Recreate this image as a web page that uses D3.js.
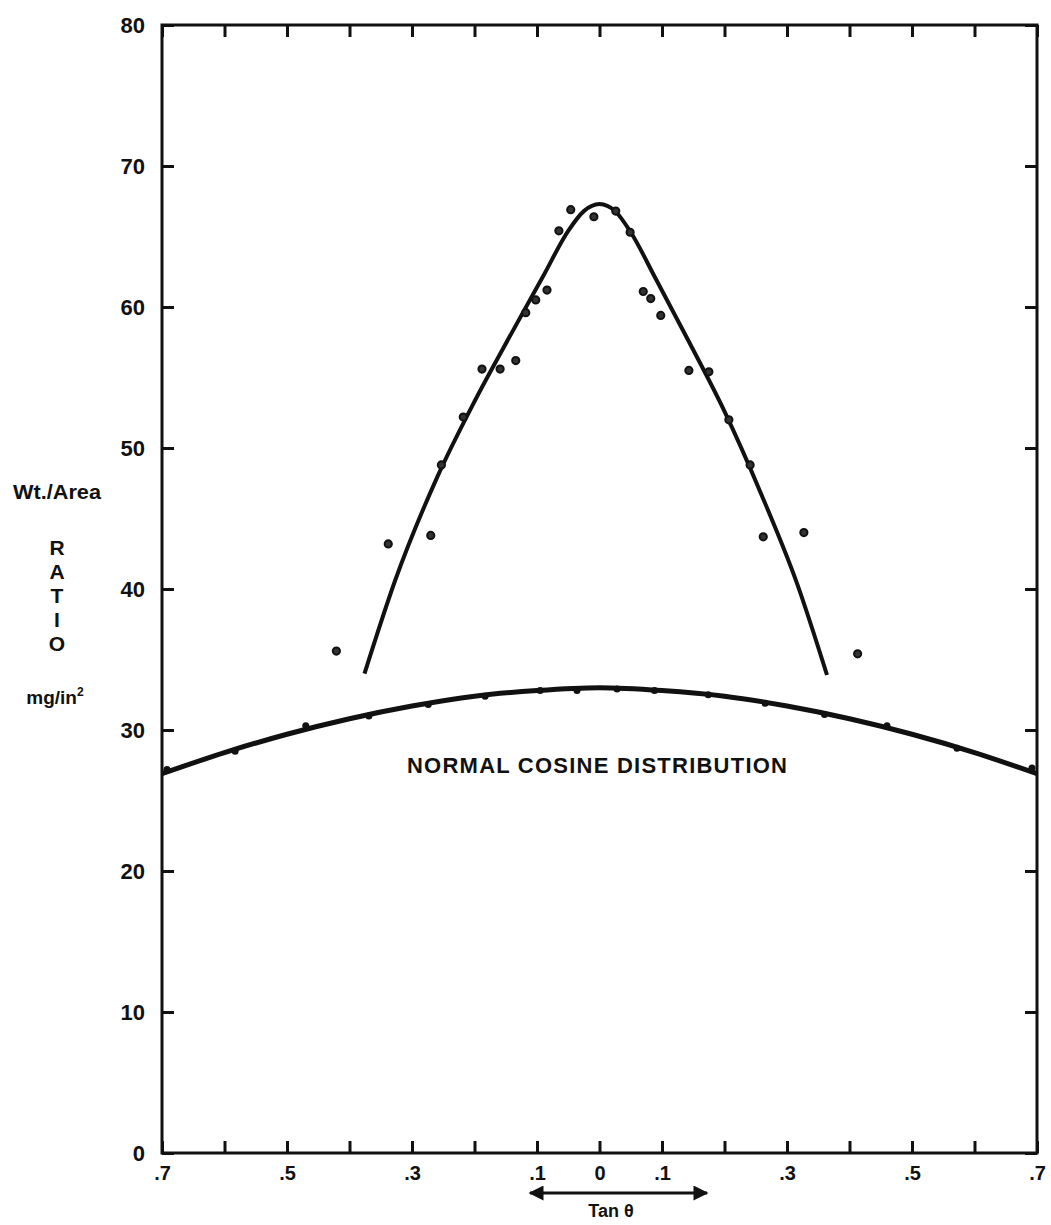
<!DOCTYPE html>
<meta charset="utf-8">
<script src="https://d3js.org/d3.v7.min.js"></script>
<style>
  body { margin: 0; background: #fff; }
  text { font-family: "Liberation Sans", Arial, sans-serif; font-weight: bold; fill: #111; }
</style>
<div id="chart"></div>
<script>

// measured points above the cosine curve (tan theta, mg/in^2)
var peakT = [-0.421,-0.338,-0.270,-0.253,-0.218,-0.188,-0.159,-0.134,-0.118,-0.102,-0.084,-0.065,-0.046,-0.009,0.026,0.049,0.070,0.082,0.098,0.143,0.175,0.207,0.241,0.262,0.327,0.413];
var peakV = [35.6,43.2,43.8,48.8,52.2,55.6,55.6,56.2,59.6,60.5,61.2,65.4,66.9,66.4,66.8,65.3,61.1,60.6,59.4,55.5,55.4,52.0,48.8,43.7,44.0,35.4];

// faired curve through the peaked points
var peakCurveT = [-0.376,-0.327,-0.26,-0.2,-0.14,-0.09,-0.05,-0.025,0,0.025,0.05,0.09,0.14,0.2,0.26,0.316,0.364];
var peakCurveV = [34.0,40.6,47.9,53.3,58.2,62.2,65.4,66.8,67.3,66.8,65.3,62.0,57.8,52.6,46.6,40.4,33.9];

// points on the normal cosine distribution
var cosT = [-0.692,-0.583,-0.470,-0.369,-0.274,-0.183,-0.095,-0.036,0.028,0.088,0.174,0.265,0.360,0.460,0.572,0.692];
var cosV = [27.2,28.5,30.3,31.0,31.8,32.4,32.8,32.8,32.9,32.8,32.5,31.9,31.1,30.3,28.7,27.3];

// cosine curve
var cosCurveT = [-0.7,-0.6,-0.5,-0.4,-0.3,-0.2,-0.1,0,0.1,0.2,0.3,0.4,0.5,0.6,0.7];
var cosCurveV = [26.9,28.4,29.7,30.8,31.7,32.4,32.8,33.0,32.8,32.4,31.7,30.8,29.7,28.4,26.9];

// axes
var xTicks = [-0.7,-0.6,-0.5,-0.4,-0.3,-0.2,-0.1,0,0.1,0.2,0.3,0.4,0.5,0.6,0.7];
var xLabels = [".7","",".5","",".3","",".1","0",".1","",".3","",".5","",".7"];
var yTicks = [0,10,20,30,40,50,60,70,80];

var margin = {top: 25, right: 14, bottom: 72, left: 162},
    width = 1051 - margin.left - margin.right,
    height = 1225 - margin.top - margin.bottom;

var svg = d3.select("#chart")
  .append("svg")
    .attr("width", 1051)
    .attr("height", 1225)
  .append("g")
    .attr("transform", "translate(" + margin.left + "," + margin.top + ")");

var x = d3.scaleLinear().domain([-0.7, 0.7]).range([0, width]);
var y = d3.scaleLinear().domain([0, 80]).range([height, 0]);

function styleAxis(g) {
  g.select(".domain").remove();
  g.selectAll(".tick line").attr("stroke", "#111").attr("stroke-width", 3);
  g.selectAll("text").attr("font-family", null).attr("fill", "#111");
}

// bottom
svg.append("g")
  .attr("transform", "translate(0," + height + ")")
  .call(d3.axisBottom(x).tickValues(xTicks)
    .tickFormat(function(d, i) { return xLabels[i]; })
    .tickSizeInner(-12).tickSizeOuter(0).tickPadding(13))
  .call(styleAxis)
  .selectAll("text").style("font-size", "20px");

// top
svg.append("g")
  .call(d3.axisTop(x).tickValues(xTicks).tickFormat("")
    .tickSizeInner(-12).tickSizeOuter(0))
  .call(styleAxis);

// left
svg.append("g")
  .call(d3.axisLeft(y).tickValues(yTicks)
    .tickSizeInner(-12).tickSizeOuter(0).tickPadding(17))
  .call(styleAxis)
  .selectAll("text").style("font-size", "22px");

// right
svg.append("g")
  .attr("transform", "translate(" + width + ",0)")
  .call(d3.axisRight(y).tickValues(yTicks).tickFormat("")
    .tickSizeInner(-12).tickSizeOuter(0))
  .call(styleAxis);

// frame
svg.append("rect")
  .attr("width", width)
  .attr("height", height)
  .attr("fill", "none")
  .attr("stroke", "#111")
  .attr("stroke-width", 3);

var line = d3.line()
  .x(function(d) { return x(d[0]); })
  .y(function(d) { return y(d[1]); })
  .curve(d3.curveMonotoneX);

svg.append("path")
  .datum(cosCurveT.map(function(t, i) { return [t, cosCurveV[i]]; }))
  .attr("d", line)
  .attr("fill", "none")
  .attr("stroke", "#111")
  .attr("stroke-width", 5);

svg.append("path")
  .datum(peakCurveT.map(function(t, i) { return [t, peakCurveV[i]]; }))
  .attr("d", line)
  .attr("fill", "none")
  .attr("stroke", "#111")
  .attr("stroke-width", 4);

svg.selectAll(".cospt")
  .data(cosT.map(function(t, i) { return [t, cosV[i]]; }))
  .enter()
  .append("circle")
    .attr("cx", function(d) { return x(d[0]); })
    .attr("cy", function(d) { return y(d[1]); })
    .attr("r", 3.5)
    .attr("fill", "#111");

svg.selectAll(".peakpt")
  .data(peakT.map(function(t, i) { return [t, peakV[i]]; }))
  .enter()
  .append("circle")
    .attr("cx", function(d) { return x(d[0]); })
    .attr("cy", function(d) { return y(d[1]); })
    .attr("r", 3.6)
    .attr("fill", "#333")
    .attr("stroke", "#111")
    .attr("stroke-width", 2);

// label under the cosine curve
svg.append("text")
  .attr("x", 407 - margin.left)
  .attr("y", 773 - margin.top)
  .attr("textLength", 380)
  .attr("lengthAdjust", "spacing")
  .style("font-size", "22px")
  .text("NORMAL COSINE DISTRIBUTION");

// y axis title, in page coordinates
var page = d3.select("svg");
page.append("text")
  .attr("x", 57).attr("y", 499)
  .attr("text-anchor", "middle")
  .attr("textLength", 88)
  .attr("lengthAdjust", "spacingAndGlyphs")
  .style("font-size", "20px")
  .text("Wt./Area");

["R","A","T","I","O"].forEach(function(c, i) {
  page.append("text")
    .attr("x", 57).attr("y", 555 + i * 24)
    .attr("text-anchor", "middle")
    .style("font-size", "21px")
    .text(c);
});

var mg = page.append("text")
  .attr("x", 55).attr("y", 704)
  .attr("text-anchor", "middle")
  .style("font-size", "19px");
mg.append("tspan").text("mg/in");
mg.append("tspan").attr("dy", -8).style("font-size", "12px").text("2");

// tan theta arrow
var defs = page.append("defs");
defs.append("marker")
  .attr("id", "head")
  .attr("viewBox", "0 0 10 10")
  .attr("refX", 9).attr("refY", 5)
  .attr("markerWidth", 7).attr("markerHeight", 5)
  .attr("markerUnits", "strokeWidth")
  .attr("orient", "auto-start-reverse")
  .append("path")
    .attr("d", "M0,0L10,5L0,10Z")
    .attr("fill", "#111");

page.append("line")
  .attr("x1", 530).attr("x2", 707)
  .attr("y1", 1193).attr("y2", 1193)
  .attr("stroke", "#111")
  .attr("stroke-width", 3)
  .attr("marker-start", "url(#head)")
  .attr("marker-end", "url(#head)");

page.append("text")
  .attr("x", 611).attr("y", 1217)
  .attr("text-anchor", "middle")
  .style("font-size", "18px")
  .text("Tan \u03b8");

</script>
